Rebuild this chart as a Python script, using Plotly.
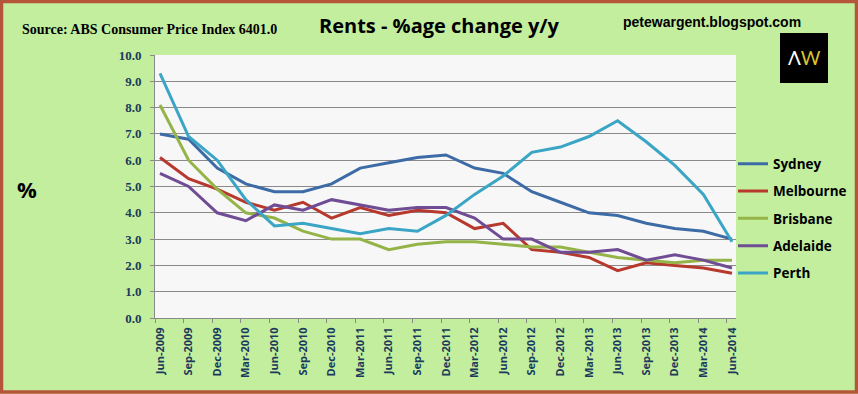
import plotly.graph_objects as go

quarters = ["Jun-2009", "Sep-2009", "Dec-2009", "Mar-2010", "Jun-2010", "Sep-2010", "Dec-2010",
            "Mar-2011", "Jun-2011", "Sep-2011", "Dec-2011", "Mar-2012", "Jun-2012", "Sep-2012",
            "Dec-2012", "Mar-2013", "Jun-2013", "Sep-2013", "Dec-2013", "Mar-2014", "Jun-2014"]

sydney = [7.0, 6.8, 5.7, 5.1, 4.8, 4.8, 5.1, 5.7, 5.9, 6.1, 6.2, 5.7, 5.5, 4.8, 4.4, 4.0, 3.9, 3.6, 3.4, 3.3, 3.0]
melbourne = [6.1, 5.3, 4.9, 4.4, 4.1, 4.4, 3.8, 4.2, 3.9, 4.1, 4.0, 3.4, 3.6, 2.6, 2.5, 2.3, 1.8, 2.1, 2.0, 1.9, 1.7]
brisbane = [8.1, 6.0, 4.9, 4.0, 3.8, 3.3, 3.0, 3.0, 2.6, 2.8, 2.9, 2.9, 2.8, 2.7, 2.7, 2.5, 2.3, 2.2, 2.1, 2.2, 2.2]
adelaide = [5.5, 5.0, 4.0, 3.7, 4.3, 4.1, 4.5, 4.3, 4.1, 4.2, 4.2, 3.8, 3.0, 3.0, 2.5, 2.5, 2.6, 2.2, 2.4, 2.2, 1.9]
perth = [9.3, 6.9, 6.0, 4.5, 3.5, 3.6, 3.4, 3.2, 3.4, 3.3, 3.9, 4.7, 5.4, 6.3, 6.5, 6.9, 7.5, 6.7, 5.8, 4.7, 2.9]

series = [
    ("Sydney", sydney, "#3D6BA6"),
    ("Melbourne", melbourne, "#B7392E"),
    ("Brisbane", brisbane, "#94B447"),
    ("Adelaide", adelaide, "#6F4C93"),
    ("Perth", perth, "#3AA5C5"),
]

ytick_vals = [i for i in range(11)]
ytick_text = [f"{v:.1f}" for v in ytick_vals]

x_idx = list(range(len(quarters)))

fig = go.Figure()
for name, vals, color in series:
    fig.add_trace(go.Scatter(
        x=x_idx, y=vals, name=name, mode="lines",
        line=dict(color=color, width=3),
        legendgroup=name,
    ))

grid = "#8A8A8A"
navy = "#1B3A5C"

# pixel helpers for paper-positioned decorations (plot area: x 155..736, y 55..318.3)
PL, PR, PT, PB = 155, 736, 55, 318.3
def px(x):
    return (x - PL) / (PR - PL)
def py(y):
    return (PB - y) / (PB - PT)

fig.update_layout(
    width=858, height=394,
    margin=dict(l=PL, r=858 - PR, t=PT, b=394 - PB, autoexpand=False),
    paper_bgcolor="#C3EE9E",
    plot_bgcolor="#F7F7F7",
    showlegend=True,
    legend=dict(
        x=px(733), xanchor="left", y=py(148.5), yanchor="top",
        font=dict(family="Open Sans", size=13.5, color="#000000", weight="bold"),
        bgcolor="rgba(0,0,0,0)",
        tracegroupgap=6.8,
        traceorder="grouped",
        itemwidth=30,
    ),
    xaxis=dict(
        range=[-0.175, 20.14],
        tickmode="array",
        tickvals=x_idx,
        ticktext=quarters,
        tickangle=-90,
        ticks="",
        ticklabelstandoff=4,
        showgrid=False,
        zeroline=False,
        showline=True, linecolor=grid, linewidth=1,
        tickfont=dict(family="Open Sans", size=11, color=navy, weight="bold"),
        minor=dict(
            tickmode="array",
            tickvals=[k - 0.175 for k in x_idx],
            ticks="outside", ticklen=4, tickcolor=grid, tickwidth=1,
            showgrid=False,
        ),
        automargin=False,
        fixedrange=True,
    ),
    yaxis=dict(
        range=[0, 10],
        tickmode="array",
        tickvals=ytick_vals,
        ticktext=ytick_text,
        ticks="outside", ticklen=4, tickcolor=grid,
        ticklabelstandoff=6,
        showgrid=True, gridcolor=grid, gridwidth=1,
        zeroline=False,
        showline=True, linecolor=grid, linewidth=1,
        tickfont=dict(family="Liberation Serif", size=13, color=navy, weight="bold"),
        automargin=False,
        fixedrange=True,
    ),
)

# Text elements
fig.add_annotation(text="Source: ABS Consumer Price Index 6401.0", xref="paper", yref="paper",
                   x=px(20), y=py(29), xanchor="left", yanchor="middle",
                   showarrow=False, font=dict(family="Liberation Serif", size=14, color="#000", weight="bold"))
fig.add_annotation(text="Rents - %age change y/y", xref="paper", yref="paper",
                   x=px(439), y=py(25), xanchor="center", yanchor="middle",
                   showarrow=False, font=dict(family="Open Sans", size=20, color="#000", weight="bold"))
fig.add_annotation(text="petewargent.blogspot.com", xref="paper", yref="paper",
                   x=px(712), y=py(22), xanchor="center", yanchor="middle",
                   showarrow=False, font=dict(family="Liberation Sans", size=14, color="#000", weight="bold"))
fig.add_annotation(text="%", xref="paper", yref="paper",
                   x=px(27), y=py(189), xanchor="center", yanchor="middle",
                   showarrow=False, font=dict(family="Open Sans", size=22, color="#000", weight="bold"))

# Logo box
fig.add_shape(type="rect", xref="paper", yref="paper",
              x0=px(780), x1=px(828), y0=py(83), y1=py(33),
              fillcolor="#000000", line=dict(width=0), layer="above")
fig.add_annotation(text="<span style='color:#FFFFFF'>Λ</span><span style='color:#D9C230'>W</span>",
                   xref="paper", yref="paper",
                   x=px(804), y=py(58), xanchor="center", yanchor="middle",
                   showarrow=False, font=dict(family="Lato", size=19, color="#FFFFFF"))

# Frame border
fig.add_shape(type="rect", xref="paper", yref="paper",
              x0=px(1.5), x1=px(856.5), y0=py(392.5), y1=py(1.5),
              line=dict(color="#B5553A", width=3.5), fillcolor="rgba(0,0,0,0)", layer="above")

fig.write_html("out.html", config={"displayModeBar": False},
               post_script="document.body.style.margin='0';document.body.style.padding='0';")
